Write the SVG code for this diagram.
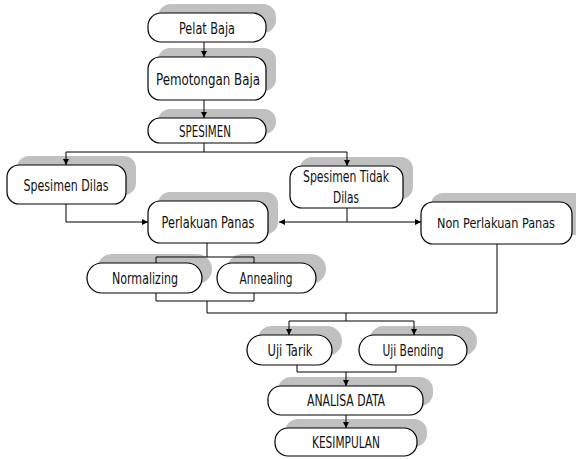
<svg xmlns="http://www.w3.org/2000/svg" width="576" height="459" viewBox="0 0 576 459">
<style>
.sh{fill:#c0c0c0;stroke:none}
.bx{fill:#fff;stroke:#000;stroke-width:1.2}
.ln{fill:none;stroke:#000;stroke-width:1}
.t{font-family:"Liberation Sans Narrow","DejaVu Sans Condensed","Liberation Sans",sans-serif;font-size:16px;fill:#111;text-anchor:middle}
</style>
<defs>
<marker id="ah" markerUnits="userSpaceOnUse" markerWidth="7" markerHeight="7" refX="6" refY="3" orient="auto">
<path d="M0,0 L6,3 L0,6 z" fill="#000"/>
</marker>
</defs>
<rect width="576" height="459" fill="#fff"/>
<g id="shadows">
<rect class="sh" x="158" y="4" width="118" height="29" rx="13"/>
<rect class="sh" x="158" y="48" width="118" height="43" rx="12"/>
<rect class="sh" x="158" y="109" width="118" height="25" rx="12"/>
<rect class="sh" x="17" y="156" width="119" height="39" rx="12"/>
<rect class="sh" x="300" y="157" width="113" height="42" rx="12"/>
<rect class="sh" x="158" y="192" width="120" height="42" rx="12"/>
<path class="sh" d="M443,193 H576 V235 H443 A12,12 0 0 1 431,223 V205 A12,12 0 0 1 443,193 Z"/>
<rect class="sh" x="97" y="254" width="115" height="30" rx="15"/>
<rect class="sh" x="227" y="254" width="99" height="30" rx="15"/>
<rect class="sh" x="257" y="326" width="85" height="30" rx="15"/>
<rect class="sh" x="369" y="326" width="108" height="30" rx="15"/>
<rect class="sh" x="278" y="377" width="155" height="29" rx="13"/>
<rect class="sh" x="285" y="419" width="142" height="28" rx="13"/>
</g>
<g id="connectors">
<path class="ln" d="M204,42 V57" marker-end="url(#ah)"/>
<path class="ln" d="M204,100 V118" marker-end="url(#ah)"/>
<path class="ln" d="M204,143 V152 M66,152 H347"/>
<path class="ln" d="M66,152 V165" marker-end="url(#ah)"/>
<path class="ln" d="M347,152 V166" marker-end="url(#ah)"/>
<path class="ln" d="M66,204 V222 H148" marker-end="url(#ah)"/>
<path class="ln" d="M347,208 V222"/>
<path class="ln" d="M347,222 H279" marker-end="url(#ah)"/>
<path class="ln" d="M347,222 H421" marker-end="url(#ah)"/>
<path class="ln" d="M207,243 V257 M156,257 H254 V301 H156 Z M207,301 V313 H497 V244"/>
<path class="ln" d="M346,313 V321 M289,321 H414"/>
<path class="ln" d="M289,321 V335" marker-end="url(#ah)"/>
<path class="ln" d="M414,321 V335" marker-end="url(#ah)"/>
<path class="ln" d="M297,365 V372 H396 V365"/>
<path class="ln" d="M346,372 V386" marker-end="url(#ah)"/>
<path class="ln" d="M346,415 V428" marker-end="url(#ah)"/>
</g>
<g id="pelat-baja"><rect class="bx" x="148" y="13" width="118" height="29" rx="13"/><text class="t" x="207" y="33.5" textLength="56" lengthAdjust="spacingAndGlyphs">Pelat Baja</text></g>
<g id="pemotongan-baja"><rect class="bx" x="148" y="57" width="118" height="43" rx="12"/><text class="t" x="208" y="84.5" textLength="104" lengthAdjust="spacingAndGlyphs">Pemotongan Baja</text></g>
<g id="spesimen"><rect class="bx" x="148" y="118" width="118" height="25" rx="12"/><text class="t" x="205" y="136.5" textLength="52" lengthAdjust="spacingAndGlyphs">SPESIMEN</text></g>
<g id="spesimen-dilas"><rect class="bx" x="7" y="165" width="119" height="39" rx="12"/><text class="t" x="66" y="190.5" textLength="85" lengthAdjust="spacingAndGlyphs">Spesimen Dilas</text></g>
<g id="spesimen-tidak-dilas"><rect class="bx" x="290" y="166" width="113" height="42" rx="12"/><text class="t" x="346" y="181.5" textLength="86" lengthAdjust="spacingAndGlyphs">Spesimen Tidak</text><text class="t" x="346" y="202.5" textLength="26" lengthAdjust="spacingAndGlyphs">Dilas</text></g>
<g id="perlakuan-panas"><rect class="bx" x="148" y="201" width="120" height="42" rx="12"/><text class="t" x="208" y="227.5" textLength="93" lengthAdjust="spacingAndGlyphs">Perlakuan Panas</text></g>
<g id="non-perlakuan-panas"><rect class="bx" x="421" y="202" width="151" height="42" rx="12"/><text class="t" x="496" y="228" style="font-size:14px" textLength="118" lengthAdjust="spacingAndGlyphs">Non Perlakuan Panas</text></g>
<g id="normalizing"><rect class="bx" x="87" y="263" width="115" height="30" rx="15"/><text class="t" x="145" y="283.5" textLength="66" lengthAdjust="spacingAndGlyphs">Normalizing</text></g>
<g id="annealing"><rect class="bx" x="217" y="263" width="99" height="30" rx="15"/><text class="t" x="266" y="283.5" textLength="53" lengthAdjust="spacingAndGlyphs">Annealing</text></g>
<g id="uji-tarik"><rect class="bx" x="247" y="335" width="85" height="30" rx="15"/><text class="t" x="290" y="355.5" textLength="45" lengthAdjust="spacingAndGlyphs">Uji Tarik</text></g>
<g id="uji-bending"><rect class="bx" x="359" y="335" width="108" height="30" rx="15"/><text class="t" x="413" y="355.5" textLength="61" lengthAdjust="spacingAndGlyphs">Uji Bending</text></g>
<g id="analisa-data"><rect class="bx" x="268" y="386" width="155" height="29" rx="13"/><text class="t" x="346" y="405.5" textLength="78" lengthAdjust="spacingAndGlyphs">ANALISA DATA</text></g>
<g id="kesimpulan"><rect class="bx" x="275" y="428" width="142" height="28" rx="13"/><text class="t" x="346" y="447.5" textLength="68" lengthAdjust="spacingAndGlyphs">KESIMPULAN</text></g>
</svg>
